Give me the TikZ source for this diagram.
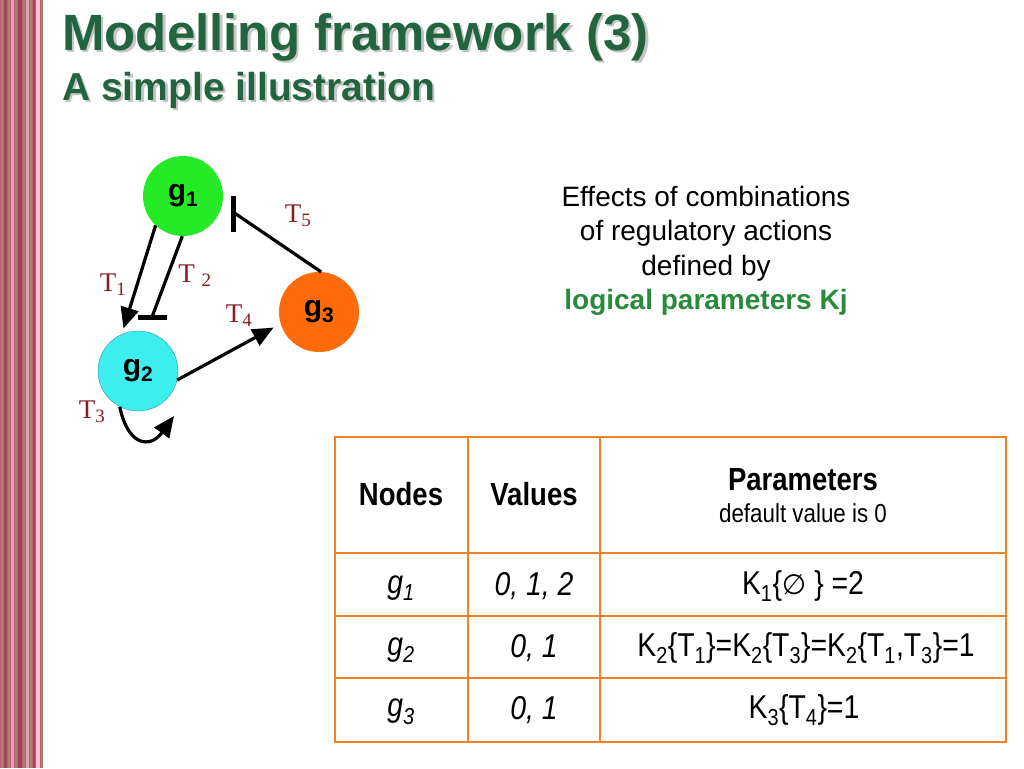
\documentclass[tikz,border=0pt]{standalone}
\usepackage{fontspec}
\setmainfont{Liberation Sans}
\newfontfamily\serifT{Liberation Serif}
\newfontfamily\symfont{DejaVu Sans}
\newfontfamily\narrowsans[FakeStretch=0.86]{Liberation Sans}
\usetikzlibrary{arrows.meta,positioning,calc}
\definecolor{titlegreen}{HTML}{22643F}
\definecolor{textgreen}{HTML}{2A8A3C}
\definecolor{labelred}{HTML}{8B1C24}
\definecolor{tableorange}{HTML}{F08424}
\definecolor{geneone}{HTML}{27EA27}
\definecolor{genetwo}{HTML}{3DEEEE}
\definecolor{genethree}{HTML}{FF6A0A}
\definecolor{sA}{HTML}{C85A78}
\definecolor{sB}{HTML}{E8A0B8}
\definecolor{sC}{HTML}{9A8A6A}
\definecolor{sD}{HTML}{A84060}
\definecolor{sE}{HTML}{F2C4D2}

\begin{document}
\begin{tikzpicture}[x=1pt, y=-1pt,
  gene/.style={circle, minimum size=80pt, inner sep=0pt, font=\fontsize{30}{32}\selectfont\bfseries},
  tlabel/.style={text=labelred, inner sep=0pt, font=\serifT\fontsize{27}{29}\selectfont},
  act/.style={-{Triangle[length=21pt, width=18pt]}, line width=3.2pt},
  inh/.style={line width=3.2pt},
  bar/.style={line width=5pt},
  tbl/.style={tableorange, line width=2.6pt},
  cell/.style={inner sep=0pt, font=\narrowsans\fontsize{33}{36}\selectfont}
]
  \useasboundingbox (0,0) rectangle (1024,768);
  \fill[white] (0,0) rectangle (1024,768);

  % textured strip on the left
  \fill[sA] (0,0) rectangle (43,768);
  \foreach \x/\w/\c in {1/1.5/sC, 4/3/sD, 8/1.5/sC, 11/3/sB, 15/1.5/sC, 18/4/sD, 23/1.5/sC, 26/3/sB, 30/1.5/sC, 33/2/sD, 36/4/sE, 41/2/sC}
    \fill[\c] (\x,0) rectangle ++(\w,768);

  % titles
  \node[anchor=base west, inner sep=0pt, text=gray!45, font=\fontsize{51}{54}\selectfont\bfseries] (titleshadow) at (64.5,52.5) {Modelling framework (3)};
  \node[anchor=base west, inner sep=0pt, text=titlegreen, font=\fontsize{51}{54}\selectfont\bfseries] (title) at (62,50) {Modelling framework (3)};
  \node[anchor=base west, inner sep=0pt, text=gray!45, font=\fontsize{39}{42}\selectfont\bfseries] (subshadow) at (64.5,102.5) {A simple illustration};
  \node[anchor=base west, inner sep=0pt, text=titlegreen, font=\fontsize{39}{42}\selectfont\bfseries] (subtitle) at (62,100) {A simple illustration};

  % regulatory graph
  \node[gene, fill=geneone] (g1) at (183,196) {g\textsubscript{1}};
  \node[gene, fill=genetwo, draw=cyan!70!black, thin] (g2) at (138,371) {g\textsubscript{2}};
  \node[gene, fill=genethree] (g3) at (319,312) {g\textsubscript{3}};

  \coordinate (t2bar) at (152,317);
  \coordinate (t5bar) at (233,212);
  \coordinate (t3tip) at (174,416);

  \draw[act, shorten >=6pt] (g1.-133) -- (g2.114);
  \draw[inh] (g1.-91) -- (t2bar);
  \draw[bar] ([xshift=-14pt]t2bar) -- ([xshift=15pt]t2bar);
  \draw[act, shorten >=8pt] (g2.-13) -- (g3.-163);
  \draw[inh] (g3.87) -- (t5bar);
  \draw[bar] ([yshift=-20pt]t5bar) -- ([yshift=16pt]t5bar);
  \draw[act] (g2.-117) .. controls (128,446) and (150,449) .. (t3tip);

  \node[tlabel] (lt1) at (113,285) {T\textsubscript{1}};
  \node[tlabel] (lt2) at (195,276) {T \textsubscript{2}};
  \node[tlabel] (lt3) at (92,412) {T\textsubscript{3}};
  \node[tlabel] (lt4) at (239,316) {T\textsubscript{4}};
  \node[tlabel] (lt5) at (298,216) {T\textsubscript{5}};

  % explanation
  \node[align=center, inner sep=0pt, font=\fontsize{28}{34.5}\selectfont] (expl) at (706,251)
    {Effects of combinations\\of regulatory actions\\defined by\\\textcolor{textgreen}{\bfseries logical parameters Kj}};

  % parameter table
  \draw[tbl] (335,437) rectangle (1006,742);
  \foreach \y in {553,616,678}
    \draw[tbl] (335,\y) -- (1006,\y);
  \foreach \x in {468,600}
    \draw[tbl] (\x,437) -- (\x,742);

  \node[cell, font=\narrowsans\fontsize{32}{36}\selectfont\bfseries] (hnodes) at (401,494) {Nodes};
  \node[cell, font=\narrowsans\fontsize{32}{36}\selectfont\bfseries] (hvalues) at (534,494) {Values};
  \node[cell, align=center] (hparams) at (803,496)
    {\bfseries\fontsize{32}{36}\selectfont Parameters\\[-4pt]{\fontsize{26}{28}\selectfont default value is 0}};

  \node[cell] (n1) at (401,588) {\itshape g\textsubscript{1}};
  \node[cell] (v1) at (534,586) {\itshape 0, 1, 2};
  \node[cell] (p1) at (803,586) {K\textsubscript{1}\{{\symfont\fontsize{28}{30}\selectfont ∅} \} =2};
  \node[cell] (n2) at (401,650) {\itshape g\textsubscript{2}};
  \node[cell] (v2) at (534,648) {\itshape 0, 1};
  \node[cell] (p2) at (806,648) {K\textsubscript{2}\{T\textsubscript{1}\}=K\textsubscript{2}\{T\textsubscript{3}\}=K\textsubscript{2}\{T\textsubscript{1},T\textsubscript{3}\}=1};
  \node[cell] (n3) at (401,712) {\itshape g\textsubscript{3}};
  \node[cell] (v3) at (534,710) {\itshape 0, 1};
  \node[cell] (p3) at (804,710) {K\textsubscript{3}\{T\textsubscript{4}\}=1};
\end{tikzpicture}
\end{document}
